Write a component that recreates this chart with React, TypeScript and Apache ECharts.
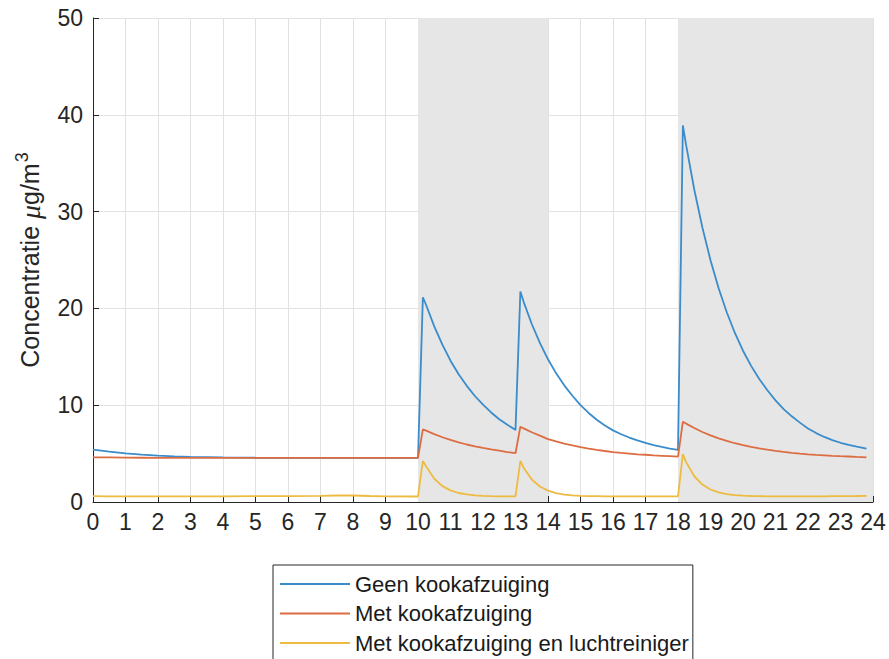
import React, { useEffect, useRef } from "react";
import * as echarts from "echarts";

const hours = [
  0, 0.5, 1, 1.5, 2, 2.5, 3, 4, 5, 6, 7, 7.5, 8, 8.5, 9, 10,
  10.15, 10.25, 10.5, 10.75, 11, 11.25, 11.5, 11.75, 12, 12.25, 12.5, 12.75, 13,
  13.15, 13.25, 13.5, 13.75, 14, 14.25, 14.5, 14.75, 15, 15.25, 15.5, 15.75, 16, 16.25, 16.5, 16.75, 17, 17.25, 17.5, 17.75, 18,
  18.15, 18.25, 18.5, 18.75, 19, 19.25, 19.5, 19.75, 20, 20.25, 20.5, 20.75, 21, 21.25, 21.5, 21.75, 22, 22.25, 22.5, 22.75, 23, 23.25, 23.5, 23.8,
];

const geenKookafzuiging = [
  5.4, 5.2, 5.02, 4.9, 4.79, 4.71, 4.65, 4.6, 4.57, 4.56, 4.55, 4.55, 4.55, 4.55, 4.55, 4.55,
  21.15, 20.35, 18.15, 16.25, 14.6, 13.2, 12.0, 10.95, 10.05, 9.25, 8.55, 7.97, 7.45,
  21.75, 20.68, 18.39, 16.43, 14.74, 13.29, 12.05, 10.98, 10.0, 9.2, 8.5, 7.9, 7.4, 7.0, 6.66, 6.36, 6.1, 5.88, 5.69, 5.52, 5.38,
  38.9, 36.86, 32.28, 28.36, 24.98, 22.09, 19.6, 17.46, 15.63, 14.06, 12.7, 11.55, 10.5, 9.6, 8.85, 8.2, 7.6, 7.12, 6.72, 6.4, 6.12, 5.9, 5.72, 5.52,
];

const metKookafzuiging = [
  4.62, 4.6, 4.58, 4.57, 4.56, 4.55, 4.55, 4.55, 4.55, 4.55, 4.55, 4.55, 4.55, 4.55, 4.55, 4.55,
  7.51, 7.38, 7.01, 6.69, 6.41, 6.16, 5.94, 5.75, 5.59, 5.44, 5.3, 5.16, 5.04,
  7.78, 7.6, 7.21, 6.86, 6.5, 6.26, 6.04, 5.84, 5.67, 5.52, 5.39, 5.27, 5.16, 5.07, 5.0, 4.93, 4.88, 4.81, 4.77, 4.73, 4.69,
  8.3, 8.1, 7.64, 7.23, 6.88, 6.58, 6.31, 6.07, 5.87, 5.69, 5.53, 5.4, 5.28, 5.17, 5.08, 5.0, 4.93, 4.87, 4.82, 4.77, 4.73, 4.7, 4.66, 4.62,
];

const metLuchtreiniger = [
  0.6, 0.59, 0.59, 0.59, 0.59, 0.59, 0.59, 0.59, 0.6, 0.6, 0.64, 0.67, 0.67, 0.62, 0.58, 0.57,
  4.25, 3.68, 2.4, 1.64, 1.2, 0.93, 0.78, 0.68, 0.63, 0.6, 0.59, 0.58, 0.58,
  4.24, 3.54, 2.32, 1.6, 1.17, 0.92, 0.77, 0.68, 0.63, 0.61, 0.6, 0.59, 0.59, 0.58, 0.58, 0.58, 0.58, 0.58, 0.58, 0.58, 0.58,
  4.96, 4.12, 2.66, 1.8, 1.29, 0.99, 0.81, 0.7, 0.65, 0.62, 0.6, 0.59, 0.58, 0.58, 0.58, 0.58, 0.59, 0.59, 0.59, 0.6, 0.6, 0.61, 0.62, 0.64,
];

const seriesNames = ["Geen kookafzuiging", "Met kookafzuiging", "Met kookafzuiging en luchtreiniger"];
const shadedPeriods = [
  [10, 14],
  [18, 24],
];

const FONT = "'Liberation Sans', Arial, Helvetica, sans-serif";
const AXIS_COLOR = "#262626";

export default function App() {
  const ref = useRef<HTMLDivElement>(null);

  useEffect(() => {
    if (!ref.current) return;
    const chart = echarts.init(ref.current, null, { renderer: "svg" });
    const pairs = (vals: number[]) => hours.map((h, i) => [h, vals[i]]);
    const colors = ["#3a8ccb", "#dc6d42", "#edbb40"];
    const datasets = [geenKookafzuiging, metKookafzuiging, metLuchtreiniger];

    chart.setOption({
      animation: false,
      backgroundColor: "#ffffff",
      grid: { left: 93, right: 16, top: 18, bottom: 157 },
      legend: {
        data: seriesNames,
        orient: "vertical",
        left: 273,
        top: 565,
        height: 140,
        icon: "rect",
        itemWidth: 70,
        itemHeight: 2,
        itemGap: 7.5,
        padding: [8, 4, 10, 7],
        backgroundColor: "#ffffff",
        borderColor: "#262626",
        borderWidth: 1,
        borderRadius: 0,
        textStyle: { fontFamily: FONT, fontSize: 22, lineHeight: 22, color: "#1a1a1a" },
      },
      xAxis: {
        type: "value",
        min: 0,
        max: 24,
        interval: 1,
        axisLine: { show: true, lineStyle: { color: AXIS_COLOR, width: 1 } },
        axisTick: { show: true, inside: true, length: 6, lineStyle: { color: AXIS_COLOR } },
        axisLabel: { fontFamily: FONT, fontSize: 23, color: AXIS_COLOR, margin: 8 },
        splitLine: { show: true, lineStyle: { color: "#e2e2e2", width: 1 } },
      },
      yAxis: {
        type: "value",
        min: 0,
        max: 50,
        interval: 10,
        name: "{a|Concentratie }{b|μ}{a|g/m}{s|3}",
        nameLocation: "middle",
        nameGap: 46,
        nameRotate: 90,
        nameTextStyle: {
          rich: {
            a: { fontFamily: FONT, fontSize: 25, color: AXIS_COLOR },
            b: { fontFamily: "'Liberation Serif', serif", fontStyle: "italic", fontSize: 28, color: AXIS_COLOR },
            s: { fontFamily: FONT, fontSize: 18, color: AXIS_COLOR, padding: [0, 0, 16, 1] },
          },
        },
        axisLine: { show: true, lineStyle: { color: AXIS_COLOR, width: 1 } },
        axisTick: { show: true, inside: true, length: 6, lineStyle: { color: AXIS_COLOR } },
        axisLabel: { fontFamily: FONT, fontSize: 23, color: AXIS_COLOR, margin: 10 },
        splitLine: { show: true, lineStyle: { color: "#e2e2e2", width: 1 } },
      },
      series: [
        {
          name: "shade",
          type: "line",
          data: [],
          z: 1,
          silent: true,
          markArea: {
            silent: true,
            itemStyle: { color: "#e6e6e6" },
            data: shadedPeriods.map(([a, b]) => [{ xAxis: a }, { xAxis: b }]),
          },
        },
        ...seriesNames.map((name, i) => ({
          name,
          type: "line",
          data: pairs(datasets[i]),
          symbol: "none",
          z: 3,
          lineStyle: { color: colors[i], width: 1.8 },
          itemStyle: { color: colors[i] },
        })),
      ],
    });
    return () => chart.dispose();
  }, []);

  return (
    <div
      ref={ref}
      style={{ position: "fixed", left: 0, top: 0, width: 889, height: 659, background: "#fff" }}
    />
  );
}
